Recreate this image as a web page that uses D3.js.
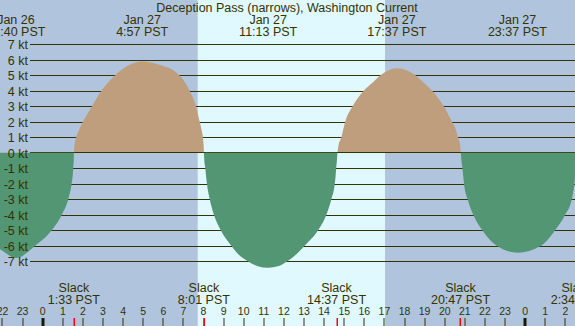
<!DOCTYPE html>
<html>
<head>
<meta charset="utf-8">
<script src="https://cdn.jsdelivr.net/npm/d3@7"></script>
<style>
  html, body { margin: 0; padding: 0; background: #b0c4de; }
  svg { display: block; font-family: "Liberation Sans", Arial, sans-serif; }
</style>
</head>
<body>
<svg id="chart"></svg>
<script>
// hours from Jan 27 00:00 PST, current speed in knots (flood +, ebb -)
const currentHours = [
  -3.0, -2.1, -1.33, -0.38, 0.45, 0.95, 1.27, 1.44, 1.49, 1.52, 1.545, 1.55,
  1.58, 1.67, 1.82, 2.0, 2.42, 2.92, 3.58, 4.2, 4.95, 5.8, 6.82, 7.31, 7.64, 7.81, 7.9, 7.97, 8.005, 8.02,
  8.04, 8.09, 8.125, 8.17, 8.31, 8.52, 8.86, 9.38, 9.69, 10.21, 10.7, 11.22, 11.7, 12.17, 12.66, 13.03,
  13.7, 14.11, 14.36, 14.53, 14.57, 14.6, 14.635, 14.66,
  14.72, 14.86, 14.95, 15.05, 15.42, 15.97, 16.39, 16.8, 17.62, 18.54, 18.97, 19.37, 19.95, 20.36,
  20.55, 20.66, 20.765, 20.8,
  20.83, 20.88, 20.92, 20.96, 21.14, 21.42, 21.87, 22.59, 23.62, 24.79, 25.49, 25.99, 26.32, 26.45, 26.52, 26.57];
const currentKnots = [
  -5.6, -6.25, -6.8, -6.0, -5.0, -4.0, -3.0, -2.0, -1.5, -1.0, -0.5, 0,
  0.5, 1.0, 1.5, 2.0, 2.93, 4.0, 4.98, 5.6, 5.9, 5.68, 4.98, 4.0, 2.93, 2.0, 1.5, 1.0, 0.5, 0,
  -0.5, -1, -1.5, -2, -3, -4, -5, -6, -6.5, -7, -7.32, -7.42, -7.33, -7, -6.5, -6,
  -5, -4, -3, -2, -1.5, -1, -0.5, 0,
  0.5, 1, 1.5, 2, 3, 4, 4.5, 5, 5.46, 5, 4.5, 4, 3, 2,
  1.5, 1, 0.5, 0,
  -0.5, -1, -1.5, -2, -3, -4, -5, -6, -6.45, -6, -5, -4, -3, -2, -1, 0];

const peakDates = ["Jan 26", "Jan 27", "Jan 27", "Jan 27", "Jan 27"];
const peakTimes = ["22:40", "4:57", "11:13", "17:37", "23:37"];
const peakDayOffset = [-1, 0, 0, 0, 0];

const slackTimes = ["1:33", "8:01", "14:37", "20:47", "2:34"];
const slackDayOffset = [0, 0, 0, 0, 1];

const knotTicks = [7, 6, 5, 4, 3, 2, 1, 0, -1, -2, -3, -4, -5, -6, -7];
const hourTicks = d3.range(-2, 27);
const daylight = [7.71, 17.03]; // sunrise, sunset
const title = "Deception Pass (narrows), Washington Current";

const width = 575, height = 326;
const ink = "#333300";
const toHours = (s, day) => { const [h, m] = s.split(":").map(Number); return day * 24 + h + m / 60; };

const x = d3.scaleLinear().domain([-2.124, 26.48]).range([0, width]);
const y = d3.scaleLinear().domain([-7, 7]).range([261.2, 44.4]);

const svg = d3.select("#chart").attr("width", width).attr("height", height);

svg.append("rect").attr("width", width).attr("height", height).attr("fill", "#b0c4de");
svg.append("rect")
  .attr("x", x(daylight[0])).attr("width", x(daylight[1]) - x(daylight[0]))
  .attr("y", 0).attr("height", height).attr("fill", "#e0f8ff");

// split the series into flood / ebb lobes at each slack (0 kt) reading
const data = currentHours.map((h, i) => ({ h, v: currentKnots[i] }));
const lobes = [];
let cur = [];
data.forEach(d => {
  cur.push(d);
  if (d.v === 0 && cur.length > 1) { lobes.push(cur); cur = [d]; }
});
if (cur.length > 1) lobes.push(cur);
const sign = lobe => Math.sign(d3.sum(lobe, d => d.v));

// grid
svg.append("g").selectAll("line")
  .data(knotTicks.filter(d => d !== 0))
  .join("line")
  .attr("x1", 30).attr("x2", width)
  .attr("y1", d => Math.round(y(d)) + 0.5).attr("y2", d => Math.round(y(d)) + 0.5)
  .attr("stroke", ink).attr("stroke-width", 1.2);

const area = d3.area().curve(d3.curveMonotoneX)
  .x(d => x(d.h)).y0(y(0)).y1(d => y(d.v));

svg.append("g").selectAll("path")
  .data(lobes.filter(l => sign(l) > 0))
  .join("path").attr("d", area).attr("fill", "#bf9e7e");
svg.append("line")
  .attr("x1", 30).attr("x2", width)
  .attr("y1", Math.round(y(0)) - 0.5).attr("y2", Math.round(y(0)) - 0.5)
  .attr("stroke", ink).attr("stroke-width", 1.2);
svg.append("g").selectAll("path")
  .data(lobes.filter(l => sign(l) < 0))
  .join("path").attr("d", area).attr("fill", "#529673");

// y labels
svg.append("g").selectAll("text")
  .data(knotTicks)
  .join("text")
  .attr("x", 28).attr("y", d => Math.round(y(d)) + 5)
  .attr("text-anchor", "end")
  .attr("font-size", 12.5).attr("fill", ink)
  .text(d => d + " kt");

// title and max current labels
svg.append("text").attr("x", 287).attr("y", 12)
  .attr("text-anchor", "middle").attr("font-size", 12.5).attr("fill", ink)
  .text(title);

const peaks = svg.append("g").selectAll("g")
  .data(peakTimes.map((t, i) => ({ t, date: peakDates[i], h: toHours(t, peakDayOffset[i]) })))
  .join("g")
  .attr("transform", d => `translate(${x(d.h)},0)`)
  .attr("text-anchor", "middle").attr("font-size", 12.5).attr("fill", ink);
peaks.append("text").attr("y", 24).text(d => d.date);
peaks.append("text").attr("y", 36).text(d => d.t + " PST");

// slack labels
const slacks = slackTimes.map((t, i) => ({ t, h: toHours(t, slackDayOffset[i]) }));
const sl = svg.append("g").selectAll("g")
  .data(slacks)
  .join("g")
  .attr("transform", d => `translate(${x(d.h)},0)`)
  .attr("text-anchor", "middle").attr("font-size", 12.5).attr("fill", ink);
sl.append("text").attr("y", 291.5).text("Slack");
sl.append("text").attr("y", 304).text(d => d.t + " PST");

// hour axis
const axis = svg.append("g");
axis.selectAll("text")
  .data(hourTicks)
  .join("text")
  .attr("x", d => x(d)).attr("y", 315)
  .attr("text-anchor", "middle").attr("font-size", 10.5).attr("fill", ink)
  .text(d => ((d % 24) + 24) % 24);
axis.selectAll("rect.tick")
  .data(hourTicks)
  .join("rect")
  .attr("class", "tick")
  .attr("x", d => Math.round(x(d)) - (d % 24 === 0 ? 1.5 : 0.5))
  .attr("width", d => d % 24 === 0 ? 3 : 1)
  .attr("y", 318).attr("height", 8)
  .attr("fill", d => d % 24 === 0 ? "#1a1a00" : ink);
axis.selectAll("rect.slack")
  .data(slacks)
  .join("rect")
  .attr("class", "slack")
  .attr("x", d => Math.round(x(d.h)) - 0.5).attr("width", 1.5)
  .attr("y", 318).attr("height", 8)
  .attr("fill", "#ff0000");
</script>
</body>
</html>
